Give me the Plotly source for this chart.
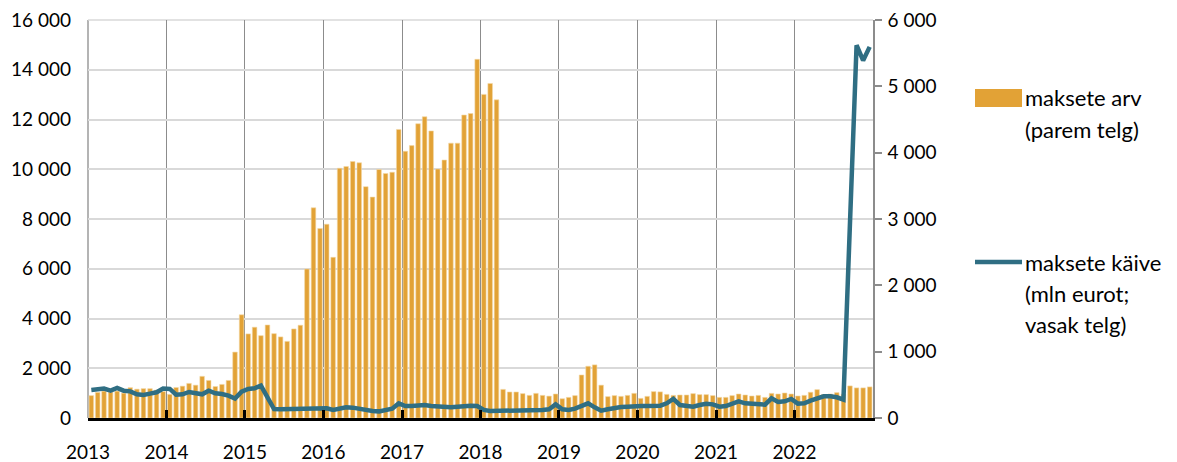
import pandas as pd
import plotly.graph_objects as go

# Monthly data, Jan 2013 - Dec 2022
months = pd.date_range("2013-01-01", periods=120, freq="MS")
year_ticks = pd.date_range("2013-01-01", periods=10, freq="YS")

maksete_arv = [
    900, 1030, 1080, 1040, 1080, 1000, 1220, 1160, 1180, 1180, 1120, 1060,      # 2013
    950, 1225, 1280, 1390, 1320, 1675, 1510, 1265, 1350, 1510, 2650, 4150,      # 2014
    3380, 3650, 3310, 3740, 3390, 3260, 3080, 3580, 3730, 5990, 8450, 7620,     # 2015
    7790, 6460, 10040, 10110, 10310, 10260, 9300, 8880, 9990, 9830, 9880, 11600,  # 2016
    10720, 10950, 11830, 12110, 11540, 10010, 10370, 11050, 11050, 12180, 12240, 14420,  # 2017
    13010, 13450, 12790, 1150, 1045, 1045, 980, 910, 990, 910, 880, 965,        # 2018
    775, 830, 900, 1730, 2080, 2135, 1320, 860, 900, 870, 910, 990,             # 2019
    790, 870, 1060, 1050, 950, 910, 925, 925, 980, 940, 940, 900,               # 2020
    830, 830, 900, 965, 925, 885, 910, 830, 990, 965, 1005, 965,                # 2021
    885, 910, 1035, 1140, 940, 965, 1020, 950, 1290, 1210, 1210, 1250,          # 2022
]

maksete_kaive = [
    423, 438, 443, 412, 453, 412, 402, 357, 347, 367, 387, 443,   # 2013
    438, 352, 357, 392, 372, 357, 412, 372, 362, 337, 292, 397,   # 2014
    438, 448, 488, 322, 136, 133, 133, 131, 131, 131, 129, 136,   # 2015
    146, 121, 146, 161, 156, 136, 116, 106, 100, 116, 141, 220,   # 2016
    180, 181, 196, 196, 181, 171, 166, 161, 171, 181, 186, 181,   # 2017
    121, 106, 106, 121, 121, 121, 111, 111, 111, 121, 131, 205,   # 2018
    131, 121, 141, 181, 221, 161, 111, 131, 151, 166, 171, 181,   # 2019
    181, 181, 176, 186, 221, 287, 196, 176, 171, 196, 216, 206,   # 2020
    170, 180, 211, 252, 221, 211, 216, 201, 297, 241, 252, 287,   # 2021
    216, 221, 262, 297, 327, 327, 312, 277, 2950, 5620, 5390, 5595,  # 2022
]

legend_bar = ["maksete arv", "(parem telg)"]
legend_line = ["maksete käive", "(mln eurot;", "vasak telg)"]

BAR_COLOR = "#E2A236"
LINE_COLOR = "#2F6E83"
VGRID = "#8C8C8C"
HGRID = "#D9D9D9"
FONT = "Lato, 'Open Sans', sans-serif"
FS = 19
LFS = 22

fig = go.Figure()
fig.add_bar(
    x=months, y=maksete_arv, xperiod="M1", xperiodalignment="middle",
    marker=dict(color=BAR_COLOR, line=dict(color="#F4D9A6", width=0.6)),
    yaxis="y", showlegend=False,
)
fig.add_scatter(
    x=months, y=maksete_kaive, xperiod="M1", xperiodalignment="middle",
    mode="lines", line=dict(color=LINE_COLOR, width=4.5),
    yaxis="y2", showlegend=False,
)

# the page body has an 8px margin, so the figure is 8px smaller than the window
fig.update_layout(
    width=1169, height=454,
    margin=dict(l=80, r=304, t=12, b=44),
    paper_bgcolor="white", plot_bgcolor="white",
    separators=", ",
    bargap=0.28,
    font=dict(family=FONT, size=FS, color="#000000"),
    xaxis=dict(
        type="date", range=["2013-01-01", "2023-01-01"],
        tickmode="array", tickvals=year_ticks, tickformat="%Y",
        showgrid=True, gridcolor=VGRID, gridwidth=1.3,
        showline=True, linecolor="#000000", linewidth=2.5,
        ticks="inside", ticklen=8, tickwidth=2.5, tickcolor="#000000",
        ticklabelstandoff=15, zeroline=False, automargin=False,
        ticklabeloverflow="allow",
    ),
    yaxis=dict(
        range=[0, 16000], tickmode="linear", tick0=0, dtick=2000, tickformat=",d",
        showgrid=True, gridcolor=HGRID, gridwidth=1.5,
        showline=False, zeroline=False, ticks="",
        ticklabelstandoff=16, automargin=False,
        ticklabeloverflow="allow",
    ),
    yaxis2=dict(
        overlaying="y", side="right", range=[0, 6000], tickmode="linear", tick0=0,
        dtick=1000, tickformat=",d",
        showgrid=False, zeroline=False,
        showline=True, linecolor=VGRID, linewidth=1.5,
        ticks="outside", ticklen=7, tickwidth=1.5, tickcolor=VGRID,
        ticklabelstandoff=2, automargin=False,
        ticklabeloverflow="allow",
    ),
)

# edge grid lines (first year line on the left, top horizontal line)
fig.add_shape(type="line", xref="paper", yref="paper", x0=0, x1=0, y0=0, y1=1,
              line=dict(color=VGRID, width=1.3), layer="below")
fig.add_shape(type="line", xref="paper", yref="paper", x0=0, x1=1, y0=1, y1=1,
              line=dict(color=HGRID, width=1.5), layer="below")

# Manual legend (positions measured in page pixels, converted to paper coords)
PL, PR, PT, PB = 88.0, 873.0, 20.0, 418.0
def px(p):
    return (p - PL) / (PR - PL)
def py(q):
    return (PB - q) / (PB - PT)

fig.add_shape(type="rect", xref="paper", yref="paper",
              x0=px(975), x1=px(1022), y0=py(107), y1=py(89),
              fillcolor=BAR_COLOR, line=dict(width=0))
fig.add_shape(type="line", xref="paper", yref="paper",
              x0=px(975), x1=px(1022), y0=py(262), y1=py(262),
              line=dict(color=LINE_COLOR, width=4.5))

for i, t in enumerate(legend_bar):
    fig.add_annotation(text=t, xref="paper", yref="paper", x=px(1023), y=py(98 + 31 * i),
                       xanchor="left", yanchor="middle", showarrow=False,
                       font=dict(family=FONT, size=LFS, color="#000000"))
for i, t in enumerate(legend_line):
    fig.add_annotation(text=t, xref="paper", yref="paper", x=px(1023), y=py(262 + 31 * i),
                       xanchor="left", yanchor="middle", showarrow=False,
                       font=dict(family=FONT, size=LFS, color="#000000"))

fig.write_html("out.html")
